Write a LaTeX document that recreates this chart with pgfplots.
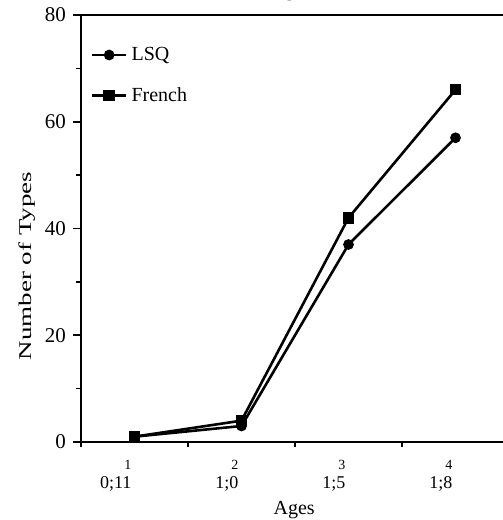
\documentclass[border=0pt]{standalone}
\usepackage{pgfplots}
\pgfplotsset{compat=1.18}
\usepackage{fontspec}
\setmainfont{Liberation Serif}

\begin{document}
\begin{tikzpicture}
\begin{axis}[
    name=ax,
    scale only axis,
    width=214pt,
    height=213.5pt,
    xmin=0.5, xmax=4.5,
    ymin=0, ymax=80,
    axis line style={line width=1pt},
    title={Ages},
    title style={at={(axis description cs:0.49,1)}, anchor=base, yshift=3.5pt,
        font=\fontsize{10}{12}\selectfont},
    xlabel={Ages},
    xlabel style={at={(axis description cs:0.498,-0.16)}, anchor=center,
        font=\fontsize{10}{12}\selectfont},
    ylabel={\scalebox{1.5}[1]{Number of Types}},
    ylabel style={at={(axis description cs:-0.126,0.412)}, anchor=center,
        font=\fontsize{9}{10}\selectfont},
    ytick={0,20,40,60,80},
    minor ytick={10,30,50,70},
    xtick={1,2,3,4},
    minor xtick={0.5,1.5,2.5,3.5},
    xticklabels={
        {{\fontsize{7}{7}\selectfont 1}\\0;11},
        {{\fontsize{7}{7}\selectfont 2}\\1;0},
        {{\fontsize{7}{7}\selectfont 3}\\1;5},
        {{\fontsize{7}{7}\selectfont 4}\\1;8}},
    xticklabel style={font=\fontsize{9}{9.5}\selectfont, align=right,
        anchor=north east, xshift=2pt, yshift=-1.5pt},
    yticklabel style={font=\fontsize{10.5}{12}\selectfont},
    /pgf/number format/assume math mode=true,
    tick align=outside,
    xtick pos=bottom,
    ytick pos=left,
    major tick length=4pt,
    minor tick length=2.5pt,
    major x tick style={draw=none},
    tick style={black, line width=0.8pt},
    legend style={at={(axis description cs:0.008,0.945)}, anchor=north west,
        draw=none, fill=none, row sep=8pt,
        font=\fontsize{10}{12}\selectfont},
    legend cell align=left,
]
\addplot[black, line width=1.3pt, mark=*, mark size=2pt]
    coordinates {(1,1) (2,3) (3,37) (4,57)};
\addlegendentry{LSQ}
\addplot[black, line width=1.3pt, mark=square*, mark size=2.2pt]
    coordinates {(1,1) (2,4) (3,42) (4,66)};
\addlegendentry{French}
\end{axis}
\pgfresetboundingbox
\useasboundingbox ([shift={(-40.5pt,-39pt)}]ax.south west)
    rectangle ([shift={(210.5pt,7.5pt)}]ax.north west);
\end{tikzpicture}
\end{document}
